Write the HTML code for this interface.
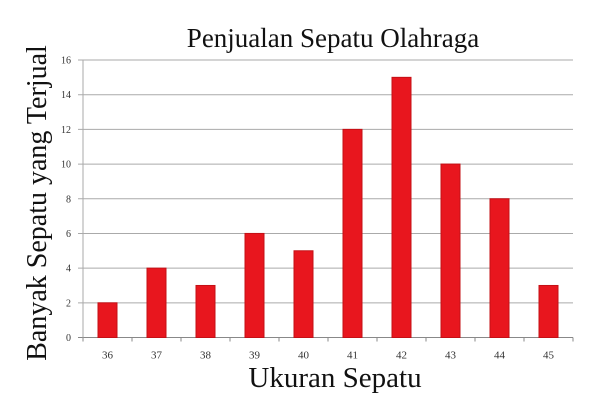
<!DOCTYPE html>
<html><head><meta charset="utf-8"><style>
html,body{margin:0;padding:0;background:#fff;}
svg{display:block;font-family:"Liberation Serif",serif;}
</style></head><body>
<svg id="chart" width="611" height="408" viewBox="0 0 611 408">
<text x="333" y="47" font-size="27" text-anchor="middle" fill="#111">Penjualan Sepatu Olahraga</text>
<text x="335" y="387" font-size="29" text-anchor="middle" fill="#111">Ukuran Sepatu</text>
<text transform="translate(46,203) rotate(-90)" font-size="28" text-anchor="middle" fill="#111">Banyak Sepatu yang Terjual</text>
<g id="grid"></g><g id="bars"></g><g id="axes"></g>
</svg>
<script>
const categories=["36","37","38","39","40","41","42","43","44","45"];
const values=[2,4,3,6,5,12,15,10,8,3];
const yTicks=[0,2,4,6,8,10,12,14,16];
const NS="http://www.w3.org/2000/svg";
const x0=83,x1=573,yb=337.5,yt=60,ymax=16;
const bw=(x1-x0)/categories.length;
function yScale(v){return yb-(v/ymax)*(yb-yt);}
function xScale(i){return x0+bw*i;}
function mk(tag,attrs,parent){const e=document.createElementNS(NS,tag);for(const k in attrs)e.setAttribute(k,attrs[k]);document.getElementById(parent).appendChild(e);return e;}
yTicks.forEach(t=>{
  const l=mk("line",{x1:x0-5,x2:x1,y1:yScale(t),y2:yScale(t),stroke:t===0?"#888":"#aaa","stroke-width":1},"grid");
  
  
  const tx=mk("text",{x:x0-12,y:yScale(t)+3.5,"font-size":10,"text-anchor":"end",fill:"#333"},"grid");
  tx.textContent=t;
  
  
});
const ax=mk("line",{x1:x0,x2:x0,y1:yt,y2:yb+4,stroke:"#aaa","stroke-width":1},"axes");


for(let i=0;i<=categories.length;i++){
  const tk=mk("line",{x1:xScale(i),x2:xScale(i),y1:yb,y2:yb+4,stroke:"#888"},"axes");
  
  
}
categories.forEach((c,i)=>{
  const w=19,cx=xScale(i)+bw/2;
  const r=mk("rect",{x:cx-w/2,y:yScale(values[i]),width:w,height:yb-yScale(values[i]),fill:"#e8161e",stroke:"#c41016","stroke-width":1},"bars");
  
  
  const t=mk("text",{x:cx,y:yb+21,"font-size":11,"text-anchor":"middle",fill:"#333"},"axes");
  t.textContent=c;
  
  
});
</script>
</body></html>
